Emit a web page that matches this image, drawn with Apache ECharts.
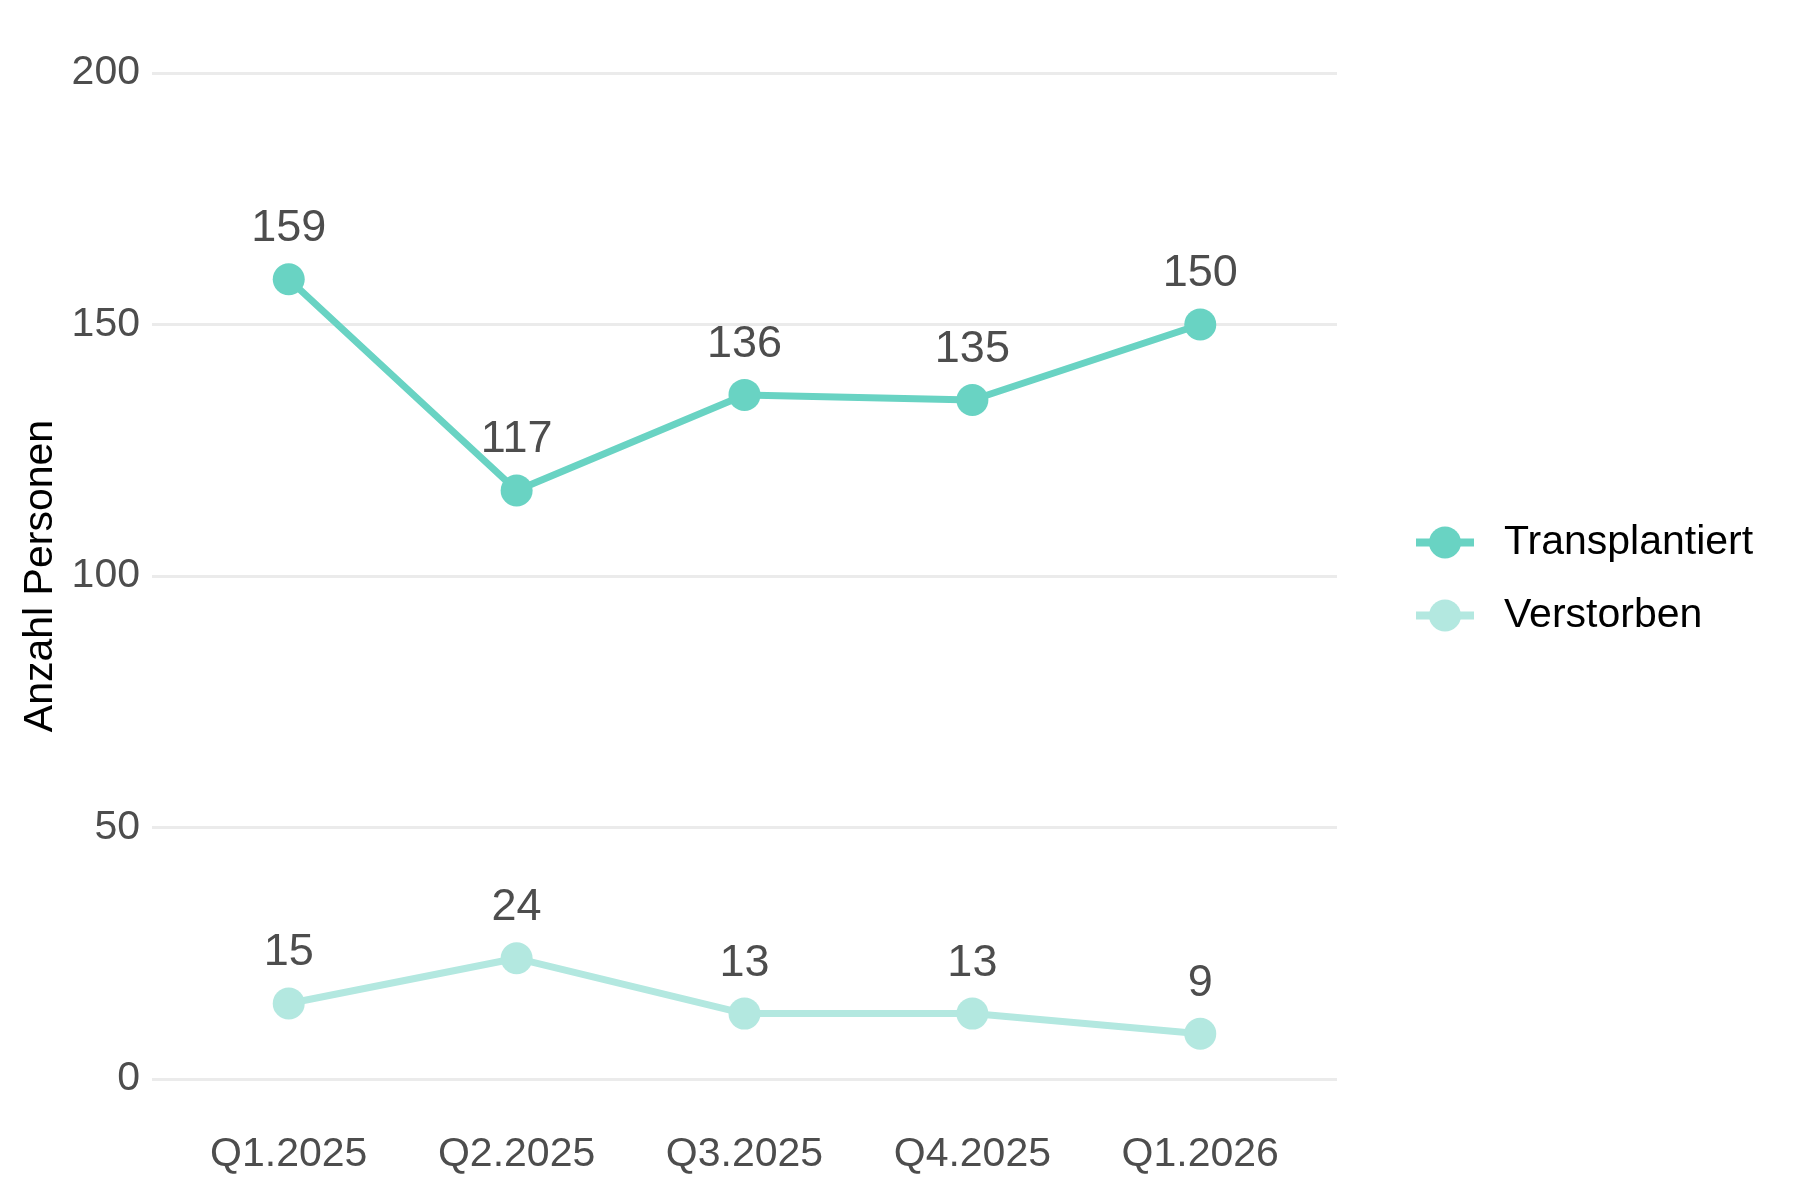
<!DOCTYPE html>
<html>
<head>
<meta charset="utf-8">
<script src="https://cdn.jsdelivr.net/npm/echarts@6/dist/echarts.min.js"></script>
<style>
html,body{margin:0;padding:0;background:#fff;}
#chart{width:1800px;height:1200px;}
</style>
</head>
<body>
<div id="chart"></div>
<script>
const categories = ['Q1.2025','Q2.2025','Q3.2025','Q4.2025','Q1.2026'];
const transplantiert = [159,117,136,135,150];
const verstorben = [15,24,13,13,9];
const yTicks = [0,50,100,150,200];

const FONT = '"Liberation Sans", Arial, sans-serif';
const C1 = '#69d3c3';
const C2 = '#b3e8e0';

function pts(arr){ return arr.map((v,i)=>[i,v]); }

const chart = echarts.init(document.getElementById('chart'), null, {renderer:'canvas'});
chart.setOption({
  backgroundColor:'#ffffff',
  animation:false,
  textStyle:{fontFamily:FONT},
  grid:{left:152, right:463, top:73, bottom:121, containLabel:false},
  xAxis:{
    type:'value', min:-0.6, max:4.6,
    axisLine:{show:false}, axisTick:{show:false}, splitLine:{show:false},
    axisLabel:{
      customValues:[0,1,2,3,4],
      formatter:(v)=>categories[Math.round(v)] || '',
      fontSize:41, color:'#4d4d4d', margin:55, fontFamily:FONT
    }
  },
  yAxis:{
    type:'value', min:yTicks[0], max:yTicks[yTicks.length-1], interval:50,
    name:'Anzahl Personen', nameLocation:'middle', nameGap:90,
    nameTextStyle:{fontSize:41, color:'#000000', fontFamily:FONT},
    axisLine:{show:false}, axisTick:{show:false},
    axisLabel:{fontSize:41, color:'#4d4d4d', margin:12, fontFamily:FONT},
    splitLine:{lineStyle:{color:'#ebebeb', width:3}}
  },
  legend:{
    orient:'vertical', left:1407, top:517,
    itemWidth:58, itemHeight:40, itemGap:32,
    lineStyle:{width:8},
    textStyle:{fontSize:41, color:'#000000', fontFamily:FONT, padding:[0,0,0,25]},
    data:['Transplantiert','Verstorben']
  },
  series:[
    {
      name:'Transplantiert', type:'line', data:pts(transplantiert),
      symbol:'circle', symbolSize:32,
      lineStyle:{color:C1, width:7}, itemStyle:{color:C1},
      label:{show:true, position:'top', distance:12, fontSize:45, color:'#4d4d4d', fontFamily:FONT,
        formatter:(p)=>p.value[1]}
    },
    {
      name:'Verstorben', type:'line', data:pts(verstorben),
      symbol:'circle', symbolSize:32,
      lineStyle:{color:C2, width:7}, itemStyle:{color:C2},
      label:{show:true, position:'top', distance:12, fontSize:45, color:'#4d4d4d', fontFamily:FONT,
        formatter:(p)=>p.value[1]}
    }
  ]
});
</script>
</body>
</html>
